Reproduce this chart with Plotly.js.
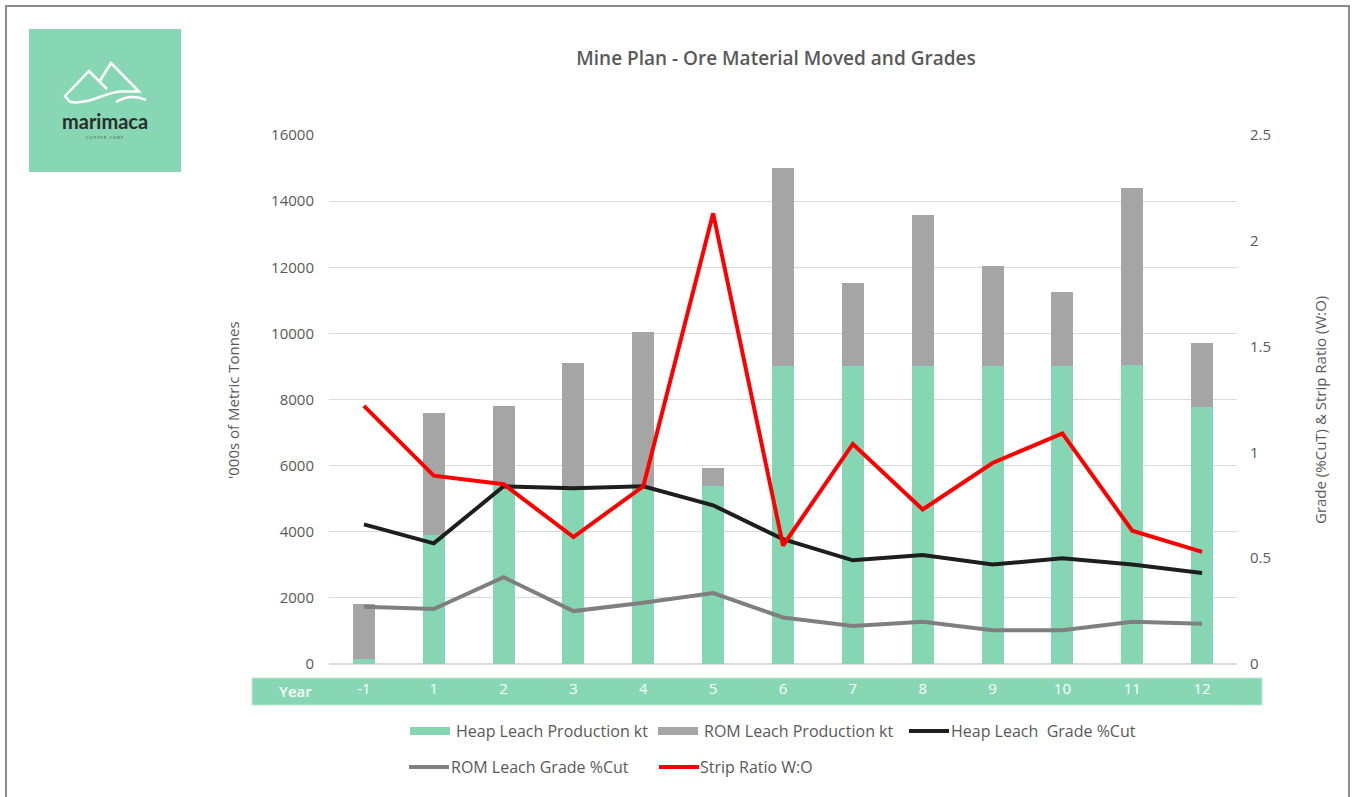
<!DOCTYPE html>
<html>
<head>
<meta charset="utf-8">
<script src="https://cdn.plot.ly/plotly-3.0.1.min.js"></script>
<style>
html,body{margin:0;padding:0;background:#fff;}
#chart{width:1354px;height:797px;}
</style>
</head>
<body>
<div id="chart"></div>
<script>
// ---- data ----
const years = ['-1','1','2','3','4','5','6','7','8','9','10','11','12'];
const heapLeachKt = [150, 3900, 5400, 5300, 5350, 5380, 9000, 9000, 9000, 9000, 9000, 9050, 7770];
const romLeachKt  = [1650, 3690, 2400, 3800, 4690, 550, 6000, 2520, 4580, 3040, 2250, 5350, 1940];
const heapGrade   = [0.66, 0.57, 0.84, 0.83, 0.84, 0.75, 0.59, 0.49, 0.515, 0.47, 0.50, 0.47, 0.43];
const romGrade    = [0.27, 0.26, 0.41, 0.25, 0.29, 0.335, 0.22, 0.18, 0.20, 0.16, 0.16, 0.20, 0.19];
const stripRatio  = [1.22, 0.89, 0.85, 0.60, 0.84, 2.13, 0.56, 1.04, 0.73, 0.95, 1.09, 0.63, 0.53];
const seriesNames = ['Heap Leach Production kt','ROM Leach Production kt','Heap Leach  Grade %Cut','ROM Leach Grade %Cut','Strip Ratio W:O'];
const leftTicks = [0,2000,4000,6000,8000,10000,12000,14000,16000];
const rightTicks = [0,0.5,1,1.5,2,2.5];

// ---- styling ----
const GREEN = '#87d6b3', GREY_BAR = '#a5a5a5', BLACK = '#1e1e1e', GREY_LINE = '#7f7f7f', RED = '#ff0000';
const TXT = '#595959';
const FONT = 'Open Sans, Liberation Sans, sans-serif';
const ML = 329, MT = 135, PW = 908, PH = 529, W = 1354, H = 797;
const px = x => (x - ML) / PW;
const py = y => (MT + PH - y) / PH;

const traces = [
  {type:'bar', name:seriesNames[0], x:years, y:heapLeachKt, marker:{color:GREEN}, showlegend:false, hoverinfo:'y'},
  {type:'bar', name:seriesNames[1], x:years, y:romLeachKt, marker:{color:GREY_BAR}, showlegend:false, hoverinfo:'y'},
  {type:'scatter', mode:'lines', name:seriesNames[2], x:years, y:heapGrade, yaxis:'y2', line:{color:BLACK, width:4}, showlegend:false},
  {type:'scatter', mode:'lines', name:seriesNames[3], x:years, y:romGrade, yaxis:'y2', line:{color:GREY_LINE, width:4}, showlegend:false},
  {type:'scatter', mode:'lines', name:seriesNames[4], x:years, y:stripRatio, yaxis:'y2', line:{color:RED, width:4}, showlegend:false}
];

const shapes = [
  // outer frame
  {type:'rect', xref:'paper', yref:'paper', x0:px(6), x1:px(1349), y0:py(820), y1:py(6), line:{color:'#8c8c8c', width:2}, fillcolor:'rgba(0,0,0,0)', layer:'below'},
  // logo box
  {type:'rect', xref:'paper', yref:'paper', x0:px(29), x1:px(181), y0:py(172), y1:py(29), line:{width:0}, fillcolor:'#87d7b4', layer:'below'},
  // year band
  {type:'rect', xref:'paper', yref:'paper', x0:px(252), x1:px(1262), y0:py(705), y1:py(678), line:{color:'#b9e8d2', width:1}, fillcolor:'#87d7b4', layer:'below'}
];

function pth(pts){ return pts.map((p,i)=>(i?'L':'M')+px(p[0])+','+py(p[1])).join(' '); }
function cub(p0,c1,c2,p1){ return 'M'+px(p0[0])+','+py(p0[1])+' C'+px(c1[0])+','+py(c1[1])+' '+px(c2[0])+','+py(c2[1])+' '+px(p1[0])+','+py(p1[1]); }
const logoLine = {color:'#ffffff', width:2.5};
[
  pth([[70,102],[65,96],[89,71],[107,89]]),
  pth([[99.5,81.5],[111,63],[139,91.5],[120,91.5]]),
  cub([70,102],[88,105],[104,93],[120,91.5]),
  cub([116,102],[125,96.5],[136,95.5],[146,100])
].forEach(p => shapes.push({type:'path', xref:'paper', yref:'paper', path:p, line:logoLine, layer:'below'}));

const annotations = [
  {xref:'paper', yref:'paper', x:px(105), y:py(121), text:'marimaca', showarrow:false, font:{family:'Lato, Open Sans, sans-serif', size:20, color:'#2d2d2d', weight:700}, xanchor:'center', yanchor:'middle'},
  {xref:'paper', yref:'paper', x:px(105), y:py(137), text:'C O P P E R   C O R P', showarrow:false, font:{family:FONT, size:4, color:'#4a4a4a'}, xanchor:'center', yanchor:'middle'},
  {xref:'paper', yref:'paper', x:px(295), y:py(691), text:'Year', showarrow:false, font:{family:FONT, size:15, color:'#ffffff', weight:600}, xanchor:'center', yanchor:'middle'},
  {xref:'paper', yref:'paper', x:px(233), y:py(400), text:"'000s of Metric Tonnes", textangle:-90, showarrow:false, font:{family:FONT, size:15, color:TXT}, xanchor:'center', yanchor:'middle'},
  {xref:'paper', yref:'paper', x:px(1320), y:py(410), text:'Grade (%CuT) &amp; Strip Ratio (W:O)', textangle:-90, showarrow:false, font:{family:FONT, size:15, color:TXT}, xanchor:'center', yanchor:'middle'}
];

// custom legend (two rows, as in the reference)
const legendItems = [
  {kind:'box', color:GREEN, x:410, y:731, tx:454, label:seriesNames[0]},
  {kind:'box', color:GREY_BAR, x:658, y:731, tx:702, label:seriesNames[1]},
  {kind:'line', color:BLACK, x:907, y:731, tx:949, label:seriesNames[2]},
  {kind:'line', color:GREY_LINE, x:407, y:767, tx:449, label:seriesNames[3]},
  {kind:'line', color:RED, x:657, y:767, tx:698, label:seriesNames[4]}
];
legendItems.forEach(it => {
  if (it.kind === 'box') {
    shapes.push({type:'rect', xref:'paper', yref:'paper', x0:px(it.x), x1:px(it.x+40), y0:py(it.y+4), y1:py(it.y-4), line:{width:0}, fillcolor:it.color});
  } else {
    shapes.push({type:'line', xref:'paper', yref:'paper', x0:px(it.x+2), x1:px(it.x+42), y0:py(it.y), y1:py(it.y), line:{color:it.color, width:4}});
  }
  annotations.push({xref:'paper', yref:'paper', x:px(it.tx), y:py(it.y), text:it.label.replace(/  /g,'&nbsp; '), showarrow:false, xanchor:'left', yanchor:'middle', font:{family:FONT, size:16, color:TXT}});
});

const layout = {
  width:W, height:H,
  margin:{l:ML, r:W-ML-PW, t:MT, b:H-MT-PH, pad:0},
  paper_bgcolor:'#ffffff', plot_bgcolor:'rgba(0,0,0,0)',
  font:{family:FONT, color:TXT, size:15},
  title:{text:'Mine Plan - Ore Material Moved and Grades', font:{family:FONT, size:19, color:TXT, weight:600}, xref:'paper', x:px(776), xanchor:'center', yref:'container', y:1-58/H, yanchor:'middle'},
  barmode:'stack', bargap:0.685,
  showlegend:false,
  xaxis:{type:'category', showgrid:false, zeroline:false, showline:false, ticks:'', tickfont:{family:FONT, size:15, color:'#ffffff'}, ticklabelstandoff:14, fixedrange:true},
  yaxis:{range:[0,16000], tickvals:leftTicks, tickformat:'d', showgrid:true, gridcolor:'#d9d9d9', gridwidth:1, zeroline:true, zerolinecolor:'#d9d9d9', zerolinewidth:2, showline:false, ticks:'', tickfont:{family:FONT, size:15, color:TXT}, ticklabelstandoff:14},
  yaxis2:{range:[0,2.5], tickvals:rightTicks, overlaying:'y', side:'right', showgrid:false, zeroline:false, showline:false, ticks:'', tickfont:{family:FONT, size:15, color:TXT}, ticklabelstandoff:12},
  shapes:shapes,
  annotations:annotations
};

Plotly.newPlot('chart', traces, layout, {displayModeBar:false, staticPlot:true});
</script>
</body>
</html>
